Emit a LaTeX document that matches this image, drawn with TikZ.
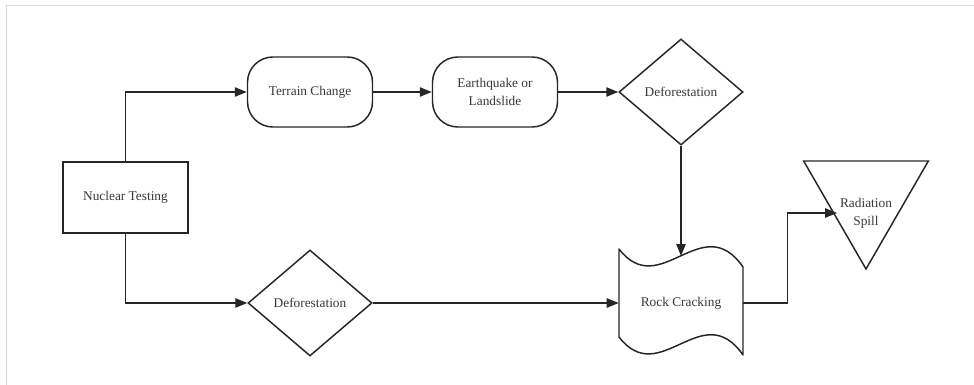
\documentclass[tikz,border=0pt]{standalone}
\usepackage{fontspec}
\setmainfont{Liberation Serif}
\usetikzlibrary{arrows.meta, positioning, calc, shapes.geometric}
\colorlet{colLine}{black!85}
\colorlet{colText}{black!78}
\colorlet{colFrame}{black!15}
\tikzset{
	lbl/.style={font=\fontsize{10}{13.5}\selectfont, text=colText, align=center, inner sep=2pt},
	flowbox/.style={lbl, draw=colLine, line width=1.1pt, minimum width=93.75pt, minimum height=53pt, inner sep=0pt},
	termbox/.style={flowbox, rounded corners=19pt, minimum height=52.5pt},
	decbox/.style={flowbox, diamond, minimum width=93pt, minimum height=79.5pt},
	spillbox/.style={draw=colLine, line width=1.1pt, regular polygon, regular polygon sides=3, shape border rotate=180, minimum size=108pt, inner sep=0pt},
	flowarr/.style={->, line width=1.1pt, draw=colLine},
}

\begin{document}
\begin{tikzpicture}[
		x=0.75pt, y=-0.75pt,
		>={Triangle[length=9pt, width=7pt]}
	]
	\useasboundingbox (0,0) rectangle (974,385);
	% Frame
	\draw[colFrame, line width=0.75pt] (6,385) -- (6,6) -- (974,6);

	% Source
	\node[flowbox] (nuc) at (125.5,197.5) {Nuclear Testing};

	% Upper branch
	\node[termbox] (terrain) at (310,92) {Terrain Change};
	\node[termbox] (quake) at (495,92) {Earthquake or\\Landslide};
	\node[decbox] (deft) at (681,92) {Deforestation};

	% Lower branch
	\node[decbox] (defb) at (310,303) {Deforestation};

	% Rock cracking (wavy outline)
	\node[lbl, minimum width=93pt, inner sep=0pt] (rock) at (681,303) {Rock Cracking};
	\draw[colLine, line width=1.1pt, line join=round]
		(619,249) .. controls (660,302) and (702,208) .. (743,267)
		-- (743,355)
		.. controls (702,296) and (660,390) .. (619,337) -- cycle;
	\coordinate (rocktop) at (681,256);

	% Radiation spill
	\node[spillbox] (spill) at (866,197) {};
	\node[lbl] (spilltxt) at (866,213) {Radiation\\Spill};

	% Arrows
	\draw[flowarr] (nuc.north) |- (terrain.west);
	\draw[flowarr] (nuc.south) |- (defb.west);
	\draw[flowarr] (terrain) -- (quake);
	\draw[flowarr] (quake) -- (deft);
	\draw[flowarr] (deft.south) -- (rocktop);
	\draw[flowarr] (defb) -- (rock);
	\draw[flowarr] (rock.east) -- ++(44,0) |- (spilltxt.west);
\end{tikzpicture}
\end{document}
